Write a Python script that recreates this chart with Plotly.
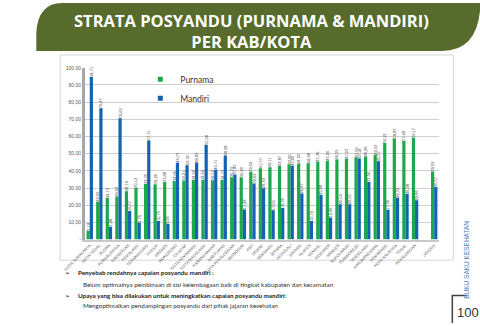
import plotly.graph_objects as go

W, H = 480, 326

regions = [
    "KOTA SURAKARTA", "KOTA TEGAL", "BLORA", "PURBALINGGA", "GROBOGAN",
    "PEMALANG", "TEMANGGUNG", "KUDUS", "BREBES", "WONOSOBO", "CILACAP",
    "KOTA SEMARANG", "KOTA MAGELANG", "KARANGANYAR", "BANYUMAS",
    "KOTA PEKALONGAN", "WONOGIRI", "PATI", "DEMAK", "REMBANG", "JEPARA",
    "BOYOLALI", "BATANG", "KLATEN", "KENDAL", "KEBUMEN", "SRAGEN",
    "SUKOHARJO", "PURWOREJO", "MAGELANG", "BANJARNEGARA", "SEMARANG",
    "KOTA SALATIGA", "TEGAL", "PEKALONGAN", " ", "JATENG",
]

purnama = [
    5.18, 22.06, 24.13, 24.93, 28.19, 30.12, 32.35, 32.26, 33.48, 34.06,
    34.21, 34.69, 34.64, 34.52, 34.73, 36.33, 36.28, 39.50, 41.57, 42.11,
    42.87, 43.86, 44.05, 44.48, 45.36, 45.90, 46.59, 47.03, 47.90, 48.29,
    49.33, 56.21, 58.83, 57.44, 59.17, None, 39.59,
]

mandiri = [
    94.71, 76.47, 7.48, 70.62, 16.57, 9.79, 57.71, 10.75, 9.06, 44.73,
    43.30, 44.89, 55.08, 40.71, 48.98, 37.85, 17.48, 32.62, 29.93, 17.06,
    18.35, 43.00, 26.87, 10.79, 25.88, 12.89, 20.54, 20.50, 47.14, 33.56,
    45.57, 17.36, 24.33, 26.48, 22.86, None, 30.57,
]

y_tick_vals = [0, 10, 20, 30, 40, 50, 60, 70, 80, 90, 100]
y_tick_text = ["-", "10,00", "20,00", "30,00", "40,00", "50,00",
               "60,00", "70,00", "80,00", "90,00", "100,00"]

GREEN = "#1ca84b"
BLUE = "#1463b2"
OLIVE = "#566b2c"


def px(x):
    return x / W


def py(y):
    return 1 - y / H


fig = go.Figure()

for name, vals, col in [("Purnama", purnama, GREEN), ("Mandiri", mandiri, BLUE)]:
    fig.add_trace(go.Bar(
        x=regions, y=vals, name=name, marker_color=col, marker_line_width=0,
        texttemplate="%{y:.2f}", textposition="outside", textangle=-90,
        textfont=dict(size=4, color="#404040", family="Liberation Sans"),
        cliponaxis=False, constraintext="none", showlegend=False,
    ))

for name, col in [("Purnama", GREEN), ("Mandiri", BLUE)]:
    fig.add_trace(go.Scatter(
        x=[None], y=[None], mode="markers", name=name, legendgroup=name,
        marker=dict(symbol="square", size=5, color=col),
    ))

# chart box + banner + decorations
x0, y0, x1, y1 = 40, 53, 452, 262
shapes = [
    dict(type="rect", xref="paper", yref="paper", x0=px(x0), x1=px(x1),
         y0=py(y1), y1=py(y0), line=dict(color="#d6d6d6", width=1),
         fillcolor="rgba(0,0,0,0)", layer="below"),
]
banner = "M %f,%f L %f,%f Q %f,%f %f,%f L %f,%f L %f,%f Q %f,%f %f,%f Z" % (
    px(15), py(49), px(15), py(30), px(17), py(0), px(42), py(0),
    px(480), py(0), px(480), py(8), px(476), py(49), px(440), py(49))
shapes.append(dict(type="path", xref="paper", yref="paper", path=banner,
                   fillcolor=OLIVE, line=dict(width=0), layer="below"))
shapes.append(dict(type="path", xref="paper", yref="paper",
                   path="M %f,%f L %f,%f L %f,%f" % (px(466), py(298), px(451), py(298), px(451), py(326)),
                   line=dict(color="#404040", width=1.5)))

annotations = [
    dict(text="<b>STRATA POSYANDU (PURNAMA &amp; MANDIRI)</b><br><b>PER KAB/KOTA</b>",
         x=px(241), y=py(29), xref="paper", yref="paper", showarrow=False,
         font=dict(family="Open Sans", size=16.5, color="white"), align="center",
         xanchor="center", yanchor="middle"),
    dict(text="➢", x=px(43), y=py(275), xref="paper", yref="paper", showarrow=False,
         xanchor="left", yanchor="middle", font=dict(family="DejaVu Sans", size=6, color="#222")),
    dict(text="➢", x=px(43), y=py(298), xref="paper", yref="paper", showarrow=False,
         xanchor="left", yanchor="middle", font=dict(family="DejaVu Sans", size=6, color="#222")),
    dict(text="<b>Penyebab rendahnya capaian posyandu mandiri :</b>", x=px(57), y=py(275),
         xref="paper", yref="paper", showarrow=False, xanchor="left", yanchor="middle",
         font=dict(family="Lato", size=6.3, color="#222")),
    dict(text="Belum optimalnya pembinaan di sisi kelembagaan baik di tingkat kabupaten dan kecamatan",
         x=px(62), y=py(287), xref="paper", yref="paper", showarrow=False, xanchor="left",
         yanchor="middle", font=dict(family="Lato", size=6.3, color="#333")),
    dict(text="<b>Upaya yang bisa dilakukan untuk meningkatkan capaian posyandu mandiri:</b>",
         x=px(57), y=py(298), xref="paper", yref="paper", showarrow=False, xanchor="left",
         yanchor="middle", font=dict(family="Lato", size=6.3, color="#222")),
    dict(text="Mengoptimalkan pendampingan posyandu dari pihak jajaran kesehatan",
         x=px(62), y=py(308), xref="paper", yref="paper", showarrow=False, xanchor="left",
         yanchor="middle", font=dict(family="Lato", size=6.3, color="#333")),
    dict(text="BUKU SAKU KESEHATAN", x=px(466), y=py(262), xref="paper", yref="paper",
         showarrow=False, textangle=-90, xanchor="center", yanchor="middle",
         font=dict(family="Liberation Sans", size=6.5, color="#4a7ebb")),
    dict(text="100", x=px(467), y=py(315), xref="paper", yref="paper", showarrow=False,
         xanchor="center", yanchor="middle",
         font=dict(family="Liberation Sans", size=13, color="#333")),
]

fig.update_layout(
    width=W, height=H, margin=dict(l=0, r=0, t=0, b=0),
    paper_bgcolor="white", plot_bgcolor="white",
    separators=",.",
    barmode="group", bargap=0.33, bargroupgap=0,
    shapes=shapes, annotations=annotations,
    legend=dict(x=px(124), y=py(63), xanchor="left", yanchor="top",
                font=dict(family="Lato", size=8.5, color="#333"),
                bgcolor="rgba(0,0,0,0)", tracegroupgap=0, itemwidth=30),
    xaxis=dict(domain=[px(66), px(437)], tickangle=-45,
               tickfont=dict(size=4, color="#595959", family="Liberation Sans"),
               showline=True, linecolor="#c8c8c8", linewidth=2, ticks="",
               showgrid=False),
    yaxis=dict(domain=[py(241), py(66)], range=[0, 100], tickvals=y_tick_vals,
               ticktext=y_tick_text, tickfont=dict(size=5, color="#595959", family="Liberation Sans"),
               showgrid=True, gridcolor="#cfcfcf", gridwidth=1, showline=True,
               linecolor="#a8a8a8", linewidth=3, ticks="", zeroline=False),
)

fig.write_html("out.html")
